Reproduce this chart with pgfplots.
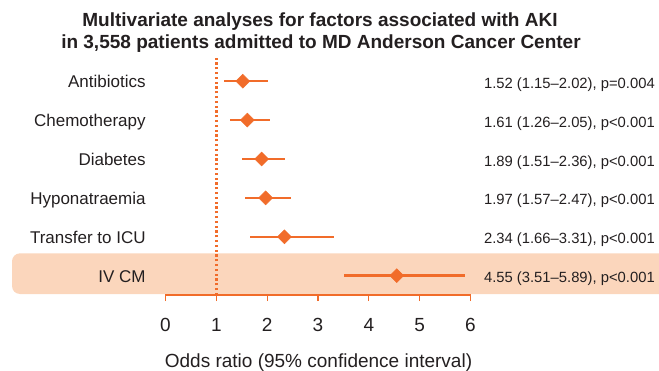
\documentclass[border=0pt]{standalone}
\usepackage{pgfplots}
\pgfplotsset{compat=1.18}
\usepackage{pgfplotstable}
\usepackage{fontspec}
\setmainfont{Liberation Sans}
\definecolor{org}{RGB}{241,108,42}
\definecolor{peach}{RGB}{251,214,188}
\definecolor{txt}{RGB}{35,31,32}

\pgfplotstableread{
y or lo hi
5 1.52 1.15 2.02
4 1.61 1.26 2.05
3 1.89 1.51 2.36
2 1.97 1.57 2.47
1 2.34 1.66 3.31
0 4.55 3.51 5.89
}\datatable

\begin{document}
\begin{tikzpicture}
\path[use as bounding box] (0,0) rectangle (659pt,370pt);
\fill[peach, rounded corners=8pt] (680pt,116.7pt) -- (12pt,116.7pt) -- (12pt,76pt) -- (680pt,76pt) -- cycle;
\begin{axis}[
 at={(165.5pt,75pt)}, anchor=south west,
 scale only axis, width=305pt, height=237pt,
 xmin=0, xmax=6, ymin=-0.497, ymax=5.597,
 axis x line*=bottom, axis y line*=left,
 x axis line style={org, line width=2.5pt},
 y axis line style={draw=none},
 xtick={0,...,6}, ytick={0,...,5},
 yticklabels={IV CM, Transfer to ICU, Hyponatraemia, Diabetes, Chemotherapy, Antibiotics},
 tick align=outside,
 major tick length=6pt,
 xtick style={org, line width=1.1pt},
 ytick style={draw=none},
 /pgf/number format/assume math mode=true,
 xticklabel style={font=\fontsize{19}{19}\selectfont, text=txt, anchor=base, inner sep=0pt, yshift=-30pt},
 yticklabel style={font=\fontsize{17}{17}\selectfont, text=txt, anchor=base east, inner sep=0pt, xshift=-13.7pt, yshift=-6.6pt},
 clip=false,
]
\addplot[org, line width=2.6pt, dash pattern=on 2.2pt off 2.6pt] coordinates {(1,-0.497) (1,5.597)};
\addplot[org, only marks, mark=square*, mark size=4.9pt,
  mark options={rotate=45, solid, line width=0.5pt, fill=org},
  error bars/.cd, x dir=both, x explicit, error mark=none,
  error bar style={line width=2.4pt, org, solid}]
 table[x=or, y=y, x error plus expr=\thisrow{hi}-\thisrow{or}, x error minus expr=\thisrow{or}-\thisrow{lo}] {\datatable};
\draw[org, line width=2.5pt] (axis cs:0,-0.497) -- (axis cs:6,-0.497);
\end{axis}
\begin{scope}[every node/.style={font=\fontsize{14.8}{14.8}\selectfont, text=txt, anchor=base east, inner sep=0pt}]
\node at (655pt,281.7pt) {1.52 (1.15–2.02), p=0.004};
\node at (655pt,242.8pt) {1.61 (1.26–2.05), p<0.001};
\node at (655pt,203.9pt) {1.89 (1.51–2.36), p<0.001};
\node at (655pt,165.0pt) {1.97 (1.57–2.47), p<0.001};
\node at (655pt,126.1pt) {2.34 (1.66–3.31), p<0.001};
\node at (655pt,87.2pt) {4.55 (3.51–5.89), p<0.001};
\end{scope}
\node[font=\bfseries\fontsize{19}{19}\selectfont, text=txt, anchor=base, inner sep=0pt] at (320pt,343pt) {Multivariate analyses for factors associated with AKI};
\node[font=\bfseries\fontsize{19}{19}\selectfont, text=txt, anchor=base, inner sep=0pt] at (321pt,321pt) {in 3,558 patients admitted to MD Anderson Cancer Center};
\node[font=\fontsize{19}{19}\selectfont, text=txt, anchor=base, inner sep=0pt] at (318.5pt,3pt) {Odds ratio (95\% confidence interval)};
\end{tikzpicture}
\end{document}
